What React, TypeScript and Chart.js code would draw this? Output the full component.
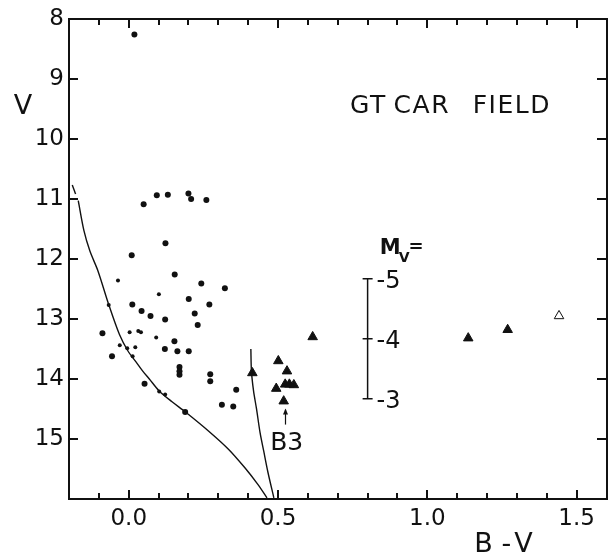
import { useEffect, useRef } from "react";
import { Chart, registerables } from "chart.js";

Chart.register(...registerables);

const INK = "#111";
const FONT = '"DejaVu Sans", "Liberation Sans", sans-serif';

// Axis ranges and ticks
const xRange = [-0.2, 1.6];
const yRange = [8, 16];
const xStep = 0.1;
const yStep = 1;

// Field stars, large filled dots (B-V, V)
const dotBV = [0.019, 0.05, 0.094, 0.131, 0.2, 0.209, 0.26, 0.123, 0.01, 0.154, 0.243, 0.322, 0.012, 0.201, 0.27, 0.043, 0.073, 0.221, 0.122, 0.231, -0.088, 0.153, 0.121, 0.163, 0.201, -0.056, 0.17, 0.17, 0.17, 0.273, 0.273, 0.053, 0.36, 0.312, 0.35, 0.189];
const dotV = [8.26, 11.09, 10.94, 10.93, 10.91, 11.0, 11.02, 11.74, 11.94, 12.26, 12.41, 12.49, 12.76, 12.67, 12.76, 12.87, 12.95, 12.91, 13.01, 13.1, 13.24, 13.37, 13.5, 13.54, 13.54, 13.62, 13.8, 13.87, 13.93, 13.92, 14.04, 14.08, 14.18, 14.43, 14.46, 14.55];

// Field stars, small dots
const smallBV = [-0.036, 0.101, -0.067, 0.003, 0.032, 0.041, 0.092, -0.03, -0.005, 0.022, 0.013, 0.102, 0.122];
const smallV = [12.36, 12.59, 12.77, 13.22, 13.2, 13.22, 13.31, 13.44, 13.49, 13.47, 13.62, 14.21, 14.26];

// Supergiant candidates, filled triangles
const triBV = [0.414, 0.501, 0.53, 0.494, 0.524, 0.538, 0.553, 0.519, 0.616, 1.137, 1.269];
const triV = [13.9, 13.7, 13.87, 14.16, 14.09, 14.09, 14.1, 14.37, 13.3, 13.32, 13.18];

// Open triangle
const openBV = [1.441];
const openV = [12.95];

// Main sequence curve (dashed start, then solid)
const msDashBV = [-0.189, -0.178];
const msDashV = [10.77, 10.92];
const msBV = [-0.169, -0.15, -0.13, -0.103, -0.067, -0.031, -0.003, 0.025, 0.047, 0.069, 0.102, 0.145, 0.19, 0.268, 0.334, 0.389, 0.433, 0.463];
const msV = [11.03, 11.53, 11.87, 12.2, 12.76, 13.26, 13.53, 13.72, 13.87, 14.0, 14.2, 14.38, 14.55, 14.87, 15.17, 15.48, 15.76, 15.98];

// Steep sequence curve
const steepBV = [0.409, 0.411, 0.418, 0.428, 0.44, 0.452, 0.466, 0.486];
const steepV = [13.5, 13.87, 14.2, 14.5, 14.9, 15.2, 15.55, 15.98];

// Absolute magnitude scale bar
const mvLabels = ["-5", "-4", "-3"];
const mvV = [12.33, 13.33, 14.33];
const mvBarBV = 0.8;

// Text annotations
const titleWords = ["GT", "CAR", "FIELD"];
const titleBV = [0.741, 0.887, 1.152];
const titleV = 9.42;
const b3Label = "B3";
const b3BV = 0.529;
const b3V = 15.03;
const b3ArrowBV = 0.522;
const b3ArrowV = [14.76, 14.51];

const pts = (xs: number[], ys: number[]) => xs.map((x, i) => ({ x, y: ys[i] }));

const isMajorX = (v: number) => Math.abs(v * 2 - Math.round(v * 2)) < 1e-6;

// Frame with inward tick marks on all four sides
const framePlugin = {
  id: "boxFrame",
  afterDraw(chart: any) {
    const ctx: CanvasRenderingContext2D = chart.ctx;
    const xs = chart.scales.x;
    const ys = chart.scales.y;
    const L = Math.round(xs.getPixelForValue(xRange[0]));
    const R = Math.round(xs.getPixelForValue(xRange[1]));
    const T = Math.round(ys.getPixelForValue(yRange[0]));
    const B = Math.round(ys.getPixelForValue(yRange[1]));
    ctx.save();
    ctx.fillStyle = INK;
    // box
    ctx.fillRect(L - 1, T - 1, R - L + 2, 2);
    ctx.fillRect(L - 1, B - 1, R - L + 2, 2);
    ctx.fillRect(L - 1, T - 1, 2, B - T + 2);
    ctx.fillRect(R - 1, T - 1, 2, B - T + 2);
    // B-V ticks, top and bottom
    for (let k = Math.round(xRange[0] / xStep) + 1; k < Math.round(xRange[1] / xStep); k++) {
      const v = k * xStep;
      const px = Math.round(xs.getPixelForValue(v));
      const len = isMajorX(v) ? 9 : 6;
      ctx.fillRect(px - 1, B - len, 2, len);
      ctx.fillRect(px - 1, T, 2, len);
    }
    // V ticks, left and right
    for (let v = yRange[0] + yStep; v < yRange[1]; v += yStep) {
      const py = Math.round(ys.getPixelForValue(v));
      ctx.fillRect(L, py - 1, 9, 2);
      ctx.fillRect(R - 10, py - 1, 10, 2);
    }
    ctx.restore();
  },
};

// Axis titles and in-plot labels
const labelPlugin = {
  id: "plotLabels",
  afterDraw(chart: any) {
    const { ctx, chartArea: a } = chart;
    const xs = chart.scales.x;
    const ys = chart.scales.y;
    ctx.save();
    ctx.fillStyle = INK;
    ctx.strokeStyle = INK;
    ctx.textBaseline = "alphabetic";
    ctx.textAlign = "left";

    // Field name
    ctx.font = `25px ${FONT}`;
    (ctx as any).letterSpacing = "1.5px";
    const ty = ys.getPixelForValue(titleV) + 9;
    titleWords.forEach((w, i) => ctx.fillText(w, xs.getPixelForValue(titleBV[i]), ty));
    (ctx as any).letterSpacing = "0px";

    // M_V =
    const mx = xs.getPixelForValue(0.841);
    const my = ys.getPixelForValue(11.917);
    ctx.font = `bold 21px ${FONT}`;
    ctx.fillText("M", mx, my);
    const mw = ctx.measureText("M").width;
    ctx.font = `bold 14px ${FONT}`;
    ctx.fillText("V", mx + mw - 2, my + 8);
    const vw = ctx.measureText("V").width;
    ctx.font = `bold 18px ${FONT}`;
    ctx.fillText("=", mx + mw + vw - 3, my - 2);

    // Scale bar labels
    ctx.font = `24px ${FONT}`;
    const lx = xs.getPixelForValue(mvBarBV) + 9;
    mvLabels.forEach((s, i) => ctx.fillText(s, lx, ys.getPixelForValue(mvV[i]) + 9));

    // B3 label with arrow
    ctx.font = `25px ${FONT}`;
    ctx.textAlign = "center";
    ctx.fillText(b3Label, xs.getPixelForValue(b3BV), ys.getPixelForValue(b3V) + 9);
    const ax = Math.round(xs.getPixelForValue(b3ArrowBV)) + 0.5;
    const ay0 = ys.getPixelForValue(b3ArrowV[0]);
    const ay1 = ys.getPixelForValue(b3ArrowV[1]);
    ctx.lineWidth = 1.2;
    ctx.beginPath();
    ctx.moveTo(ax, ay0);
    ctx.lineTo(ax, ay1);
    ctx.stroke();
    ctx.beginPath();
    ctx.moveTo(ax, ay1 - 1);
    ctx.lineTo(ax - 2.5, ay1 + 5);
    ctx.lineTo(ax + 2.5, ay1 + 5);
    ctx.closePath();
    ctx.fill();

    // Axis titles
    ctx.font = `27px ${FONT}`;
    ctx.textAlign = "center";
    ctx.fillText("V", a.left - 46, ys.getPixelForValue(9.42) + 10);
    const bx = xs.getPixelForValue(1.255);
    const by = a.bottom + 53;
    ctx.fillText("B", bx - 20, by);
    ctx.fillText("-", bx + 3, by);
    ctx.fillText("V", bx + 20, by);
    ctx.restore();
  },
};

export default function App() {
  const ref = useRef<HTMLCanvasElement | null>(null);

  useEffect(() => {
    if (!ref.current) return;
    const tickFont = { family: FONT, size: 23 };
    const chart = new Chart(ref.current, {
      type: "scatter",
      data: {
        datasets: [
          {
            data: pts(msDashBV, msDashV),
            showLine: true,
            borderColor: INK,
            borderWidth: 1.4,
            pointRadius: 0,
          },
          {
            data: pts(msBV, msV),
            showLine: true,
            borderColor: INK,
            borderWidth: 1.4,
            pointRadius: 0,
            tension: 0.3,
          },
          {
            data: pts(steepBV, steepV),
            showLine: true,
            borderColor: INK,
            borderWidth: 1.4,
            pointRadius: 0,
            tension: 0.3,
          },
          {
            data: pts([mvBarBV, mvBarBV, mvBarBV], mvV),
            showLine: true,
            borderColor: INK,
            borderWidth: 1.5,
            pointStyle: "line",
            pointRadius: 5,
            pointBorderWidth: 1.5,
            pointBorderColor: INK,
          },
          {
            data: pts(dotBV, dotV),
            pointStyle: "circle",
            pointRadius: 3,
            pointBackgroundColor: INK,
            pointBorderColor: INK,
            pointBorderWidth: 0,
          },
          {
            data: pts(smallBV, smallV),
            pointStyle: "circle",
            pointRadius: 2,
            pointBackgroundColor: INK,
            pointBorderColor: INK,
            pointBorderWidth: 0,
          },
          {
            data: pts(triBV, triV),
            pointStyle: "triangle",
            pointRadius: 5.5,
            pointBackgroundColor: INK,
            pointBorderColor: INK,
            pointBorderWidth: 1,
          },
          {
            data: pts(openBV, openV),
            pointStyle: "triangle",
            pointRadius: 5.5,
            pointBackgroundColor: "#fff",
            pointBorderColor: INK,
            pointBorderWidth: 1,
          },
        ],
      },
      options: {
        animation: false,
        responsive: false,
        devicePixelRatio: 1,
        events: [],
        layout: { padding: { left: 0, right: 3, top: 17, bottom: 0 } },
        plugins: { legend: { display: false }, tooltip: { enabled: false } },
        scales: {
          x: {
            type: "linear",
            min: xRange[0],
            max: xRange[1],
            grid: { display: false, drawTicks: false },
            border: { display: false },
            ticks: {
              stepSize: xStep,
              autoSkip: false,
              maxRotation: 0,
              padding: 6,
              color: INK,
              font: tickFont,
              callback: (v: any) => {
                const n = Number(v);
                return isMajorX(n) && n > -1e-6 ? (Math.round(n * 2) / 2).toFixed(1) : "";
              },
            },
            afterFit: (s: any) => {
              s.height = 55;
            },
          },
          y: {
            type: "linear",
            reverse: true,
            min: yRange[0],
            max: yRange[1],
            grid: { display: false, drawTicks: false },
            border: { display: false },
            ticks: {
              stepSize: yStep,
              autoSkip: false,
              padding: 5,
              color: INK,
              font: tickFont,
              callback: (v: any) => (Number(v) >= yRange[1] ? "" : String(v)),
            },
            afterFit: (s: any) => {
              s.width = 69;
            },
          },
        },
      },
      plugins: [framePlugin, labelPlugin],
    });
    return () => chart.destroy();
  }, []);

  return (
    <div style={{ position: "absolute", left: 0, top: 0, width: 613, height: 554, overflow: "hidden", background: "#fff" }}>
      <canvas ref={ref} width={613} height={554} style={{ display: "block" }} />
    </div>
  );
}
